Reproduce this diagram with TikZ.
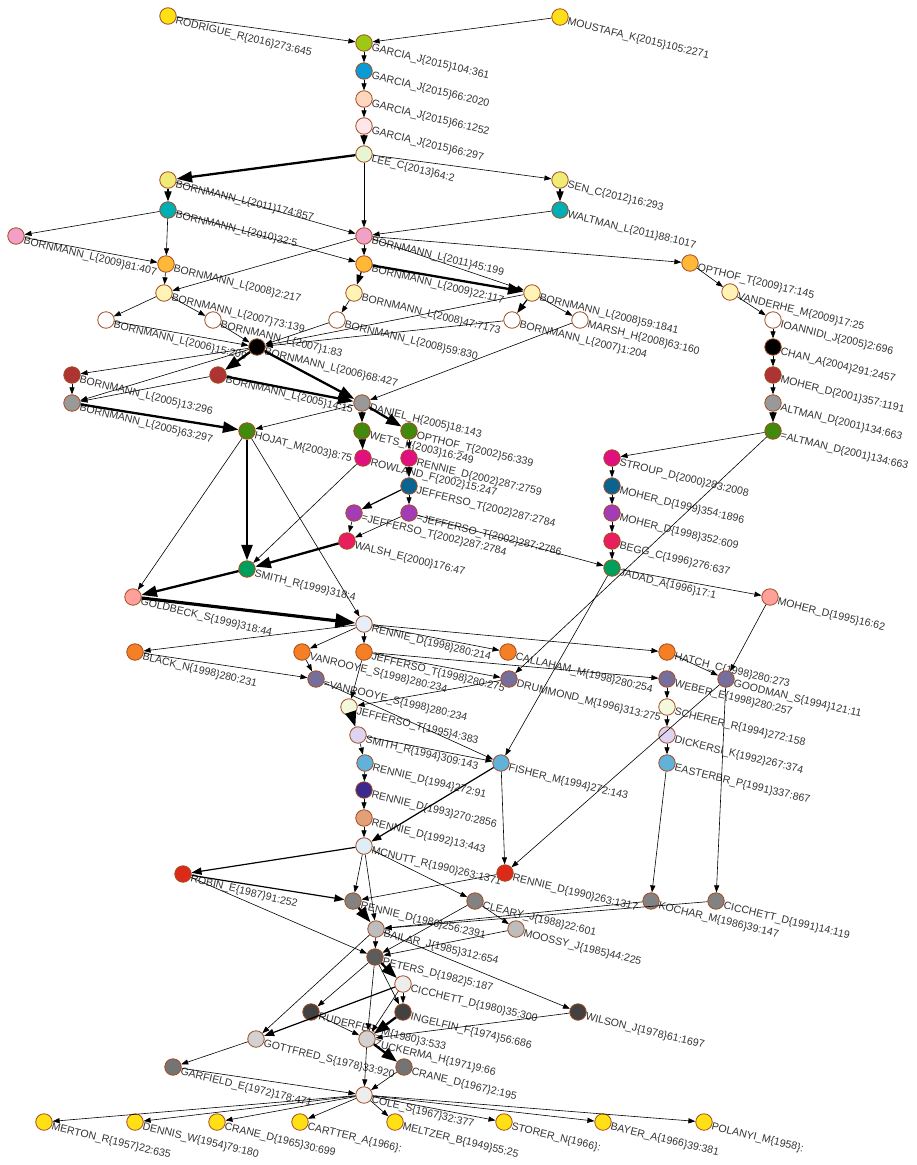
\documentclass[tikz,border=0pt]{standalone}
\usepackage{fontspec}
\setmainfont{Liberation Sans}
\usepackage{tikz}
\usetikzlibrary{arrows.meta}

\definecolor{rim}{HTML}{A34A1E}
\definecolor{ink}{HTML}{333333}
\definecolor{cGold}{HTML}{FFE015}
\definecolor{cLime}{HTML}{9DC813}
\definecolor{cBlue}{HTML}{0A9AD6}
\definecolor{cPeach}{HTML}{FFD7BE}
\definecolor{cBlush}{HTML}{FFE6EA}
\definecolor{cMint}{HTML}{E6F5D2}
\definecolor{cKhaki}{HTML}{F0EA78}
\definecolor{cTeal}{HTML}{00AFB3}
\definecolor{cPink}{HTML}{F1A0C8}
\definecolor{cAmber}{HTML}{FFB838}
\definecolor{cCream}{HTML}{FFF4B5}
\definecolor{cBrick}{HTML}{AE3433}
\definecolor{cGray}{HTML}{999999}
\definecolor{cOlive}{HTML}{418A0E}
\definecolor{cMagenta}{HTML}{E0117F}
\definecolor{cNavy}{HTML}{0B6490}
\definecolor{cPurple}{HTML}{A23DB5}
\definecolor{cCrimson}{HTML}{E81E5E}
\definecolor{cJade}{HTML}{00A05C}
\definecolor{cSalmon}{HTML}{FFA19A}
\definecolor{cIce}{HTML}{E6EEF9}
\definecolor{cOrange}{HTML}{F47F24}
\definecolor{cSlate}{HTML}{766E9B}
\definecolor{cPale}{HTML}{F3F9DC}
\definecolor{cLavender}{HTML}{DCD4F1}
\definecolor{cSky}{HTML}{62B1DB}
\definecolor{cIndigo}{HTML}{3B2A8E}
\definecolor{cTan}{HTML}{E1A077}
\definecolor{cFrost}{HTML}{DDEEF8}
\definecolor{cRed}{HTML}{DC2A18}
\definecolor{cMidGray}{HTML}{828282}
\definecolor{cSilver}{HTML}{BDBDBD}
\definecolor{cDark}{HTML}{5C5C5C}
\definecolor{cSmoke}{HTML}{EDEDED}
\definecolor{cCharcoal}{HTML}{424242}
\definecolor{cLight}{HTML}{D2D2D2}
\definecolor{cSteel}{HTML}{747474}

\begin{document}
\begin{tikzpicture}
  [
    x=1pt, y=-1pt,
    Doc/.style={circle, draw=rim, line width=0.8pt, minimum size=16.5pt, inner sep=0pt, label distance=2.5pt},
    Tag/.style={anchor=north west, rotate=-13.5, inner sep=0pt, text=ink, font=\fontsize{10.6}{12}\selectfont},
    Cite/.style={-{Triangle[length=4pt 5, width=3pt 3.5]}, line width=0.6pt},
    Mid/.style={Cite, line width=1.2pt},
    Heavy/.style={Cite, line width=2.3pt},
    Bolder/.style={Cite, line width=3.2pt}
  ]
  \useasboundingbox (0,0) rectangle (917,1165);
  % Nodes
  \node[Doc, fill=cGold, label={[Tag]right:RODRIGUE\_R\{2016\}273:645}] (rodrigue) at (168, 16) {};
  \node[Doc, fill=cGold, label={[Tag]right:MOUSTAFA\_K\{2015\}105:2271}] (moustafa) at (560, 17) {};
  \node[Doc, fill=cLime, label={[Tag]right:GARCIA\_J\{2015\}104:361}] (garciaA) at (364, 43) {};
  \node[Doc, fill=cBlue, label={[Tag]right:GARCIA\_J\{2015\}66:2020}] (garciaB) at (364, 71) {};
  \node[Doc, fill=cPeach, label={[Tag]right:GARCIA\_J\{2015\}66:1252}] (garciaC) at (364, 99) {};
  \node[Doc, fill=cBlush, label={[Tag]right:GARCIA\_J\{2015\}66:297}] (garciaD) at (364, 126) {};
  \node[Doc, fill=cMint, label={[Tag]right:LEE\_C\{2013\}64:2}] (lee) at (364, 154) {};
  \node[Doc, fill=cKhaki, label={[Tag]right:BORNMANN\_L\{2011\}174:857}] (bornA) at (168, 180) {};
  \node[Doc, fill=cKhaki, label={[Tag]right:SEN\_C\{2012\}16:293}] (sen) at (560, 180) {};
  \node[Doc, fill=cTeal, label={[Tag]right:BORNMANN\_L\{2010\}32:5}] (bornB) at (168, 210) {};
  \node[Doc, fill=cTeal, label={[Tag]right:WALTMAN\_L\{2011\}88:1017}] (waltman) at (560, 210) {};
  \node[Doc, fill=cPink, label={[Tag]right:BORNMANN\_L\{2009\}81:407}] (bornC) at (16, 236) {};
  \node[Doc, fill=cPink, label={[Tag]right:BORNMANN\_L\{2011\}45:199}] (bornD) at (364, 236) {};
  \node[Doc, fill=cAmber, label={[Tag]right:BORNMANN\_L\{2008\}2:217}] (bornE) at (166, 264) {};
  \node[Doc, fill=cAmber, label={[Tag]right:BORNMANN\_L\{2009\}22:117}] (bornF) at (364, 264) {};
  \node[Doc, fill=cAmber, label={[Tag]right:OPTHOF\_T\{2009\}17:145}] (opthofA) at (690, 263) {};
  \node[Doc, fill=cCream, label={[Tag]right:BORNMANN\_L\{2007\}73:139}] (bornG) at (164, 293) {};
  \node[Doc, fill=cCream, label={[Tag]right:BORNMANN\_L\{2008\}47:7173}] (bornH) at (354, 293) {};
  \node[Doc, fill=cCream, label={[Tag]right:BORNMANN\_L\{2008\}59:1841}] (bornI) at (532, 293) {};
  \node[Doc, fill=cCream, label={[Tag]right:VANDERHE\_M\{2009\}17:25}] (vanderhe) at (730, 292) {};
  \node[Doc, fill=white, label={[Tag]right:BORNMANN\_L\{2006\}15:209}] (bornJ) at (106, 320) {};
  \node[Doc, fill=white, label={[Tag]right:BORNMANN\_L\{2007\}1:83}] (bornK) at (213, 320) {};
  \node[Doc, fill=white, label={[Tag]right:BORNMANN\_L\{2008\}59:830}] (bornL) at (337, 320) {};
  \node[Doc, fill=white, label={[Tag]right:BORNMANN\_L\{2007\}1:204}] (bornM) at (512, 320) {};
  \node[Doc, fill=white, label={[Tag]right:MARSH\_H\{2008\}63:160}] (marsh) at (580, 320) {};
  \node[Doc, fill=white, label={[Tag]right:IOANNIDI\_J\{2005\}2:696}] (ioannidi) at (773, 320) {};
  \node[Doc, fill=black, label={[Tag]right:BORNMANN\_L\{2006\}68:427}] (bornN) at (257, 347) {};
  \node[Doc, fill=black, label={[Tag]right:CHAN\_A\{2004\}291:2457}] (chan) at (773, 347) {};
  \node[Doc, fill=cBrick, label={[Tag]right:BORNMANN\_L\{2005\}13:296}] (bornO) at (72, 375) {};
  \node[Doc, fill=cBrick, label={[Tag]right:BORNMANN\_L\{2005\}14:15}] (bornP) at (218, 375) {};
  \node[Doc, fill=cBrick, label={[Tag]right:MOHER\_D\{2001\}357:1191}] (moherA) at (773, 375) {};
  \node[Doc, fill=cGray, label={[Tag]right:BORNMANN\_L\{2005\}63:297}] (bornQ) at (72, 403) {};
  \node[Doc, fill=cGray, label={[Tag]right:DANIEL\_H\{2005\}18:143}] (daniel) at (362, 403) {};
  \node[Doc, fill=cGray, label={[Tag]right:ALTMAN\_D\{2001\}134:663}] (altmanA) at (773, 403) {};
  \node[Doc, fill=cOlive, label={[Tag]right:HOJAT\_M\{2003\}8:75}] (hojat) at (247, 431) {};
  \node[Doc, fill=cOlive, label={[Tag]right:WETS\_K\{2003\}16:249}] (wets) at (362, 431) {};
  \node[Doc, fill=cOlive, label={[Tag]right:OPTHOF\_T\{2002\}56:339}] (opthofB) at (409, 431) {};
  \node[Doc, fill=cOlive, label={[Tag]right:=ALTMAN\_D\{2001\}134:663}] (altmanB) at (773, 431) {};
  \node[Doc, fill=cMagenta, label={[Tag]right:ROWLAND\_F\{2002\}15:247}] (rowland) at (363, 458) {};
  \node[Doc, fill=cMagenta, label={[Tag]right:RENNIE\_D\{2002\}287:2759}] (rennieA) at (409, 458) {};
  \node[Doc, fill=cMagenta, label={[Tag]right:STROUP\_D\{2000\}283:2008}] (stroup) at (612, 458) {};
  \node[Doc, fill=cNavy, label={[Tag]right:JEFFERSO\_T\{2002\}287:2784}] (jeffA) at (409, 486) {};
  \node[Doc, fill=cNavy, label={[Tag]right:MOHER\_D\{1999\}354:1896}] (moherB) at (612, 486) {};
  \node[Doc, fill=cPurple, label={[Tag]right:=JEFFERSO\_T\{2002\}287:2784}] (jeffB) at (354, 513) {};
  \node[Doc, fill=cPurple, label={[Tag]right:=JEFFERSO\_T\{2002\}287:2786}] (jeffC) at (409, 513) {};
  \node[Doc, fill=cPurple, label={[Tag]right:MOHER\_D\{1998\}352:609}] (moherC) at (612, 513) {};
  \node[Doc, fill=cCrimson, label={[Tag]right:WALSH\_E\{2000\}176:47}] (walsh) at (347, 541) {};
  \node[Doc, fill=cCrimson, label={[Tag]right:BEGG\_C\{1996\}276:637}] (begg) at (612, 541) {};
  \node[Doc, fill=cJade, label={[Tag]right:SMITH\_R\{1999\}318:4}] (smithA) at (247, 569) {};
  \node[Doc, fill=cJade, label={[Tag]right:JADAD\_A\{1996\}17:1}] (jadad) at (612, 568) {};
  \node[Doc, fill=cSalmon, label={[Tag]right:GOLDBECK\_S\{1999\}318:44}] (goldbeck) at (133, 597) {};
  \node[Doc, fill=cSalmon, label={[Tag]right:MOHER\_D\{1995\}16:62}] (moherD) at (770, 597) {};
  \node[Doc, fill=cIce, label={[Tag]right:RENNIE\_D\{1998\}280:214}] (rennieB) at (364, 624) {};
  \node[Doc, fill=cOrange, label={[Tag]right:BLACK\_N\{1998\}280:231}] (black) at (135, 652) {};
  \node[Doc, fill=cOrange, label={[Tag]right:VANROOYE\_S\{1998\}280:234}] (vanrooyeA) at (302, 652) {};
  \node[Doc, fill=cOrange, label={[Tag]right:JEFFERSO\_T\{1998\}280:275}] (jeffD) at (364, 652) {};
  \node[Doc, fill=cOrange, label={[Tag]right:CALLAHAM\_M\{1998\}280:254}] (callaham) at (508, 652) {};
  \node[Doc, fill=cOrange, label={[Tag]right:HATCH\_C\{1998\}280:273}] (hatch) at (667, 652) {};
  \node[Doc, fill=cSlate, label={[Tag]right:=VANROOYE\_S\{1998\}280:234}] (vanrooyeB) at (316, 679) {};
  \node[Doc, fill=cSlate, label={[Tag]right:DRUMMOND\_M\{1996\}313:275}] (drummond) at (509, 679) {};
  \node[Doc, fill=cSlate, label={[Tag]right:WEBER\_E\{1998\}280:257}] (weber) at (667, 679) {};
  \node[Doc, fill=cSlate, label={[Tag]right:GOODMAN\_S\{1994\}121:11}] (goodman) at (726, 679) {};
  \node[Doc, fill=cPale, label={[Tag]right:JEFFERSO\_T\{1995\}4:383}] (jeffE) at (349, 707) {};
  \node[Doc, fill=cPale, label={[Tag]right:SCHERER\_R\{1994\}272:158}] (scherer) at (667, 707) {};
  \node[Doc, fill=cLavender, label={[Tag]right:SMITH\_R\{1994\}309:143}] (smithB) at (358, 735) {};
  \node[Doc, fill=cLavender, label={[Tag]right:DICKERSI\_K\{1992\}267:374}] (dickersi) at (667, 735) {};
  \node[Doc, fill=cSky, label={[Tag]right:RENNIE\_D\{1994\}272:91}] (rennieC) at (365, 763) {};
  \node[Doc, fill=cSky, label={[Tag]right:FISHER\_M\{1994\}272:143}] (fisher) at (501, 763) {};
  \node[Doc, fill=cSky, label={[Tag]right:EASTERBR\_P\{1991\}337:867}] (easterbr) at (667, 763) {};
  \node[Doc, fill=cIndigo, label={[Tag]right:RENNIE\_D\{1993\}270:2856}] (rennieD) at (364, 790) {};
  \node[Doc, fill=cTan, label={[Tag]right:RENNIE\_D\{1992\}13:443}] (rennieE) at (364, 818) {};
  \node[Doc, fill=cFrost, label={[Tag]right:MCNUTT\_R\{1990\}263:1371}] (mcnutt) at (364, 846) {};
  \node[Doc, fill=cRed, label={[Tag]right:ROBIN\_E\{1987\}91:252}] (robin) at (183, 874) {};
  \node[Doc, fill=cRed, label={[Tag]right:RENNIE\_D\{1990\}263:1317}] (rennieF) at (505, 873) {};
  \node[Doc, fill=cMidGray, label={[Tag]right:RENNIE\_D\{1986\}256:2391}] (rennieG) at (353, 901) {};
  \node[Doc, fill=cMidGray, label={[Tag]right:CLEARY\_J\{1988\}22:601}] (cleary) at (475, 901) {};
  \node[Doc, fill=cMidGray, label={[Tag]right:KOCHAR\_M\{1986\}39:147}] (kochar) at (651, 901) {};
  \node[Doc, fill=cMidGray, label={[Tag]right:CICCHETT\_D\{1991\}14:119}] (cicchettA) at (716, 901) {};
  \node[Doc, fill=cSilver, label={[Tag]right:BAILAR\_J\{1985\}312:654}] (bailar) at (376, 929) {};
  \node[Doc, fill=cSilver, label={[Tag]right:MOOSSY\_J\{1985\}44:225}] (moossy) at (516, 929) {};
  \node[Doc, fill=cDark, label={[Tag]right:PETERS\_D\{1982\}5:187}] (peters) at (375, 957) {};
  \node[Doc, fill=cSmoke, label={[Tag]right:CICCHETT\_D\{1980\}35:300}] (cicchettB) at (403, 984) {};
  \node[Doc, fill=cCharcoal, label={[Tag]right:RUDERFER\_M\{1980\}3:533}] (ruderfer) at (311, 1012) {};
  \node[Doc, fill=cCharcoal, label={[Tag]right:INGELFIN\_F\{1974\}56:686}] (ingelfin) at (403, 1012) {};
  \node[Doc, fill=cCharcoal, label={[Tag]right:WILSON\_J\{1978\}61:1697}] (wilson) at (578, 1012) {};
  \node[Doc, fill=cLight, label={[Tag]right:GOTTFRED\_S\{1978\}33:920}] (gottfred) at (256, 1039) {};
  \node[Doc, fill=cLight, label={[Tag]right:ZUCKERMA\_H\{1971\}9:66}] (zuckerma) at (367, 1039) {};
  \node[Doc, fill=cSteel, label={[Tag]right:GARFIELD\_E\{1972\}178:471}] (garfield) at (173, 1067) {};
  \node[Doc, fill=cSteel, label={[Tag]right:CRANE\_D\{1967\}2:195}] (craneA) at (404, 1067) {};
  \node[Doc, fill=cSmoke, label={[Tag]right:COLE\_S\{1967\}32:377}] (cole) at (364, 1095) {};
  \node[Doc, fill=cGold, label={[Tag]right:MERTON\_R\{1957\}22:635}] (merton) at (44, 1122) {};
  \node[Doc, fill=cGold, label={[Tag]right:DENNIS\_W\{1954\}79:180}] (dennis) at (135, 1122) {};
  \node[Doc, fill=cGold, label={[Tag]right:CRANE\_D\{1965\}30:699}] (craneB) at (217, 1122) {};
  \node[Doc, fill=cGold, label={[Tag]right:CARTTER\_A\{1966\}:}] (cartter) at (300, 1122) {};
  \node[Doc, fill=cGold, label={[Tag]right:MELTZER\_B\{1949\}55:25}] (meltzer) at (395, 1122) {};
  \node[Doc, fill=cGold, label={[Tag]right:STORER\_N\{1966\}:}] (storer) at (504, 1122) {};
  \node[Doc, fill=cGold, label={[Tag]right:BAYER\_A\{1966\}39:381}] (bayer) at (603, 1122) {};
  \node[Doc, fill=cGold, label={[Tag]right:POLANYI\_M\{1958\}:}] (polanyi) at (704, 1122) {};
  % Lines
  \path [Cite, draw] (rodrigue) -- (garciaA);
  \path [Cite, draw] (moustafa) -- (garciaA);
  \path [Cite, draw] (garciaA) -- (garciaB);
  \path [Cite, draw] (garciaB) -- (garciaC);
  \path [Cite, draw] (garciaC) -- (garciaD);
  \path [Mid, draw] (garciaD) -- (lee);
  \path [Heavy, draw] (lee) -- (bornA);
  \path [Cite, draw] (lee) -- (sen);
  \path [Cite, draw] (lee) -- (bornD);
  \path [Mid, draw] (bornA) -- (bornB);
  \path [Cite, draw] (bornA) -- (bornD);
  \path [Mid, draw] (sen) -- (waltman);
  \path [Cite, draw] (waltman) -- (bornD);
  \path [Cite, draw] (bornB) -- (bornC);
  \path [Cite, draw] (bornB) -- (bornE);
  \path [Cite, draw] (bornB) -- (bornF);
  \path [Cite, draw] (bornC) -- (bornE);
  \path [Cite, draw] (bornD) -- (bornF);
  \path [Cite, draw] (bornD) -- (bornG);
  \path [Cite, draw] (bornD) -- (bornI);
  \path [Cite, draw] (bornD) -- (opthofA);
  \path [Cite, draw] (bornE) -- (bornG);
  \path [Mid, draw] (bornF) -- (bornH);
  \path [Heavy, draw] (bornF) -- (bornI);
  \path [Cite, draw] (opthofA) -- (vanderhe);
  \path [Cite, draw] (vanderhe) -- (ioannidi);
  \path [Cite, draw] (ioannidi) -- (chan);
  \path [Cite, draw] (chan) -- (moherA);
  \path [Cite, draw] (moherA) -- (altmanA);
  \path [Mid, draw] (altmanA) -- (altmanB);
  \path [Cite, draw] (bornG) -- (bornJ);
  \path [Cite, draw] (bornG) -- (bornK);
  \path [Cite, draw] (bornH) -- (bornL);
  \path [Mid, draw] (bornI) -- (bornM);
  \path [Cite, draw] (bornI) -- (marsh);
  \path [Cite, draw] (bornI) -- (bornN);
  \path [Cite, draw] (bornJ) -- (bornN);
  \path [Cite, draw] (bornK) -- (bornN);
  \path [Cite, draw] (bornL) -- (bornN);
  \path [Cite, draw] (bornM) -- (bornN);
  \path [Cite, draw] (bornN) -- (bornO);
  \path [Cite, draw] (bornN) -- (bornQ);
  \path [Heavy, draw] (bornN) -- (bornP);
  \path [Heavy, draw] (bornN) -- (daniel);
  \path [Cite, draw] (bornO) -- (bornQ);
  \path [Cite, draw] (bornP) -- (bornQ);
  \path [Heavy, draw] (bornP) -- (daniel);
  \path [Cite, draw] (marsh) -- (daniel);
  \path [Heavy, draw] (bornQ) -- (hojat);
  \path [Cite, draw] (daniel) -- (hojat);
  \path [Mid, draw] (daniel) -- (wets);
  \path [Heavy, draw] (daniel) -- (opthofB);
  \path [Mid, draw] (wets) -- (rowland);
  \path [Cite, draw] (opthofB) -- (rennieA);
  \path [Mid, draw] (rennieA) -- (jeffA);
  \path [Mid, draw] (jeffA) -- (jeffB);
  \path [Cite, draw] (jeffA) -- (jeffC);
  \path [Cite, draw] (jeffB) -- (walsh);
  \path [Cite, draw] (jeffC) -- (walsh);
  \path [Cite, draw] (jeffC) -- (jadad);
  \path [Heavy, draw] (walsh) -- (smithA);
  \path [Cite, draw] (rowland) -- (smithA);
  \path [Heavy, draw] (hojat) -- (smithA);
  \path [Cite, draw] (hojat) -- (goldbeck);
  \path [Cite, draw] (hojat) -- (rennieB);
  \path [Heavy, draw] (smithA) -- (goldbeck);
  \path [Bolder, draw] (goldbeck) -- (rennieB);
  \path [Cite, draw] (altmanB) -- (stroup);
  \path [Cite, draw] (altmanB) -- (drummond);
  \path [Cite, draw] (stroup) -- (moherB);
  \path [Cite, draw] (moherB) -- (moherC);
  \path [Cite, draw] (moherC) -- (begg);
  \path [Cite, draw] (begg) -- (jadad);
  \path [Cite, draw] (jadad) -- (moherD);
  \path [Cite, draw] (jadad) -- (fisher);
  \path [Cite, draw] (moherD) -- (goodman);
  \path [Cite, draw] (rennieB) -- (black);
  \path [Cite, draw] (rennieB) -- (vanrooyeA);
  \path [Cite, draw] (rennieB) -- (jeffD);
  \path [Cite, draw] (rennieB) -- (callaham);
  \path [Cite, draw] (rennieB) -- (hatch);
  \path [Cite, draw] (black) -- (vanrooyeB);
  \path [Cite, draw] (vanrooyeA) -- (vanrooyeB);
  \path [Cite, draw] (jeffD) -- (drummond);
  \path [Cite, draw] (jeffD) -- (weber);
  \path [Cite, draw] (jeffD) -- (jeffE);
  \path [Cite, draw] (drummond) -- (jeffE);
  \path [Cite, draw] (vanrooyeB) -- (fisher);
  \path [Heavy, draw] (jeffE) -- (smithB);
  \path [Cite, draw] (smithB) -- (fisher);
  \path [Cite, draw] (smithB) -- (rennieC);
  \path [Cite, draw] (rennieC) -- (rennieD);
  \path [Cite, draw] (rennieD) -- (rennieE);
  \path [Cite, draw] (rennieE) -- (mcnutt);
  \path [Mid, draw] (fisher) -- (mcnutt);
  \path [Cite, draw] (fisher) -- (rennieF);
  \path [Cite, draw] (hatch) -- (goodman);
  \path [Cite, draw] (weber) -- (scherer);
  \path [Cite, draw] (scherer) -- (dickersi);
  \path [Cite, draw] (dickersi) -- (easterbr);
  \path [Cite, draw] (goodman) -- (cicchettA);
  \path [Cite, draw] (goodman) -- (rennieF);
  \path [Cite, draw] (easterbr) -- (kochar);
  \path [Mid, draw] (mcnutt) -- (robin);
  \path [Cite, draw] (mcnutt) -- (rennieG);
  \path [Cite, draw] (mcnutt) -- (bailar);
  \path [Cite, draw] (mcnutt) -- (cleary);
  \path [Cite, draw] (rennieF) -- (rennieG);
  \path [Mid, draw] (robin) -- (rennieG);
  \path [Cite, draw] (robin) -- (peters);
  \path [Heavy, draw] (rennieG) -- (bailar);
  \path [Cite, draw] (kochar) -- (bailar);
  \path [Cite, draw] (cicchettA) -- (bailar);
  \path [Cite, draw] (cleary) -- (moossy);
  \path [Cite, draw] (cleary) -- (peters);
  \path [Cite, draw] (moossy) -- (peters);
  \path [Cite, draw] (bailar) -- (peters);
  \path [Cite, draw] (bailar) -- (wilson);
  \path [Cite, draw] (bailar) -- (gottfred);
  \path [Heavy, draw] (peters) -- (cicchettB);
  \path [Cite, draw] (peters) -- (ingelfin);
  \path [Cite, draw] (peters) -- (ruderfer);
  \path [Cite, draw] (peters) -- (zuckerma);
  \path [Cite, draw] (cicchettB) -- (ingelfin);
  \path [Mid, draw] (cicchettB) -- (gottfred);
  \path [Cite, draw] (cicchettB) -- (zuckerma);
  \path [Heavy, draw] (ingelfin) -- (zuckerma);
  \path [Cite, draw] (ruderfer) -- (zuckerma);
  \path [Cite, draw] (wilson) -- (zuckerma);
  \path [Heavy, draw] (zuckerma) -- (craneA);
  \path [Cite, draw] (zuckerma) -- (cole);
  \path [Cite, draw] (craneA) -- (cole);
  \path [Cite, draw] (gottfred) -- (garfield);
  \path [Cite, draw] (garfield) -- (cole);
  \path [Cite, draw] (cole) -- (merton);
  \path [Cite, draw] (cole) -- (dennis);
  \path [Cite, draw] (cole) -- (craneB);
  \path [Cite, draw] (cole) -- (cartter);
  \path [Cite, draw] (cole) -- (meltzer);
  \path [Cite, draw] (cole) -- (storer);
  \path [Cite, draw] (cole) -- (bayer);
  \path [Cite, draw] (cole) -- (polanyi);
\end{tikzpicture}
\end{document}
